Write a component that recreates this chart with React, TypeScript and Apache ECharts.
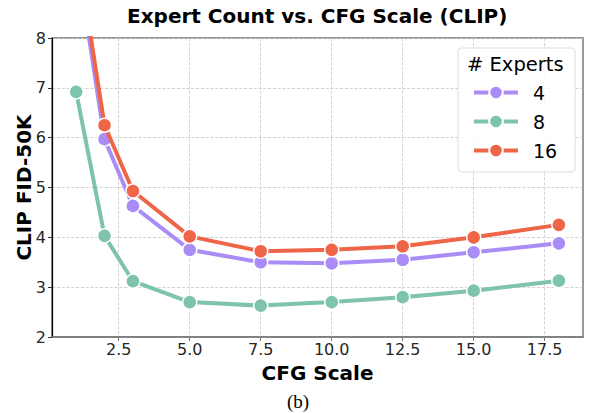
import React, { useEffect, useRef } from "react";
import * as echarts from "echarts";

const cfgScales = [1, 2, 3, 5, 7.5, 10, 12.5, 15, 18];
const experts4 = [9.7, 5.97, 4.63, 3.75, 3.5, 3.48, 3.55, 3.7, 3.88];
const experts8 = [6.92, 4.03, 3.12, 2.7, 2.63, 2.7, 2.8, 2.93, 3.13];
const experts16 = [9.9, 6.25, 4.93, 4.02, 3.72, 3.75, 3.82, 4.0, 4.25];
const xTicks = [2.5, 5.0, 7.5, 10.0, 12.5, 15.0, 17.5];
const seriesNames = ["4", "8", "16"];
const seriesColors = ["#AA8CF6", "#7EC3AD", "#EE6547"];

const FONT = "DejaVu Sans";

export default function App() {
  const ref = useRef<HTMLDivElement>(null);
  useEffect(() => {
    if (!ref.current) return;
    const chart = echarts.init(ref.current, undefined, { renderer: "svg" });
    const datasets = [experts4, experts8, experts16];
    chart.setOption({
      animation: false,
      backgroundColor: "#ffffff",
      textStyle: { fontFamily: FONT },
      title: {
        text: "Expert Count vs. CFG Scale (CLIP)",
        left: 127,
        top: 6,
        padding: 0,
        textStyle: { fontFamily: FONT, fontSize: 20, fontWeight: "bold", color: "#000" },
      },
      grid: {
        left: 52,
        right: 6,
        top: 38,
        bottom: 76,
        show: true,
        borderColor: "#777",
        borderWidth: 1.5,
        backgroundColor: "transparent",
      },
      xAxis: {
        type: "value",
        min: 0.15,
        max: 18.85,
        name: "CFG Scale",
        nameLocation: "middle",
        nameGap: 26,
        nameMoveOverlap: false,
        nameTextStyle: { fontFamily: FONT, fontSize: 20, fontWeight: "bold", color: "#000" },
        axisLine: { show: true, lineStyle: { color: "#777", width: 1.5 } },
        axisTick: { show: true, length: 4, lineStyle: { color: "#777" }, customValues: xTicks },
        axisLabel: {
          customValues: xTicks,
          formatter: (v: number) => v.toFixed(1),
          fontFamily: FONT,
          fontSize: 16,
          color: "#262626",
          margin: 4,
        },
        splitLine: { show: true, lineStyle: { color: "#c8c8c8", type: "dashed", width: 0.8 } },
      },
      yAxis: {
        type: "value",
        min: 2,
        max: 8,
        interval: 1,
        name: "CLIP FID-50K",
        nameLocation: "middle",
        nameGap: 18,
        nameMoveOverlap: false,
        nameTextStyle: { fontFamily: FONT, fontSize: 20, fontWeight: "bold", color: "#000" },
        axisLine: { show: true, lineStyle: { color: "#000", width: 1.2 } },
        axisTick: { show: true, length: 4, lineStyle: { color: "#333" } },
        axisLabel: { fontFamily: FONT, fontSize: 16, color: "#262626", margin: 6 },
        splitLine: { show: true, lineStyle: { color: "#c8c8c8", type: "dashed", width: 0.8 } },
      },
      legend: {
        orient: "vertical",
        left: 458,
        top: 48,
        padding: [35, 18, 12, 14],
        itemWidth: 44,
        itemHeight: 17,
        itemGap: 10,
        borderColor: "#dddddd",
        borderWidth: 1,
        borderRadius: 4,
        backgroundColor: "rgba(255,255,255,0.85)",
        lineStyle: { width: 4 },
        textStyle: { fontFamily: FONT, fontSize: 19, color: "#000", padding: [0, 0, 0, 10] },
        data: seriesNames,
      },
      graphic: [
        {
          type: "text",
          left: 467,
          top: 54,
          z: 100,
          style: { text: "# Experts", fontFamily: FONT, fontSize: 19.5, fill: "#000" },
        },
        {
          type: "text",
          left: 287,
          top: 392,
          style: {
            text: "(b)",
            fontFamily: "Liberation Serif",
            fontSize: 19,
            fill: "#000",
          },
        },
      ],
      series: seriesNames.map((name, i) => ({
        name,
        type: "line",
        data: cfgScales.map((x, j) => [x, datasets[i][j]]),
        clip: true,
        symbol: "circle",
        symbolSize: 14,
        color: seriesColors[i],
        lineStyle: { width: 4, color: seriesColors[i] },
        itemStyle: { color: seriesColors[i], borderColor: "#fff", borderWidth: 1.5 },
        z: i === 1 ? 2 : i === 0 ? 3 : 4,
      })),
    });
    return () => chart.dispose();
  }, []);
  return (
    <div
      ref={ref}
      style={{ position: "absolute", left: 0, top: 0, width: 589, height: 413 }}
    />
  );
}
